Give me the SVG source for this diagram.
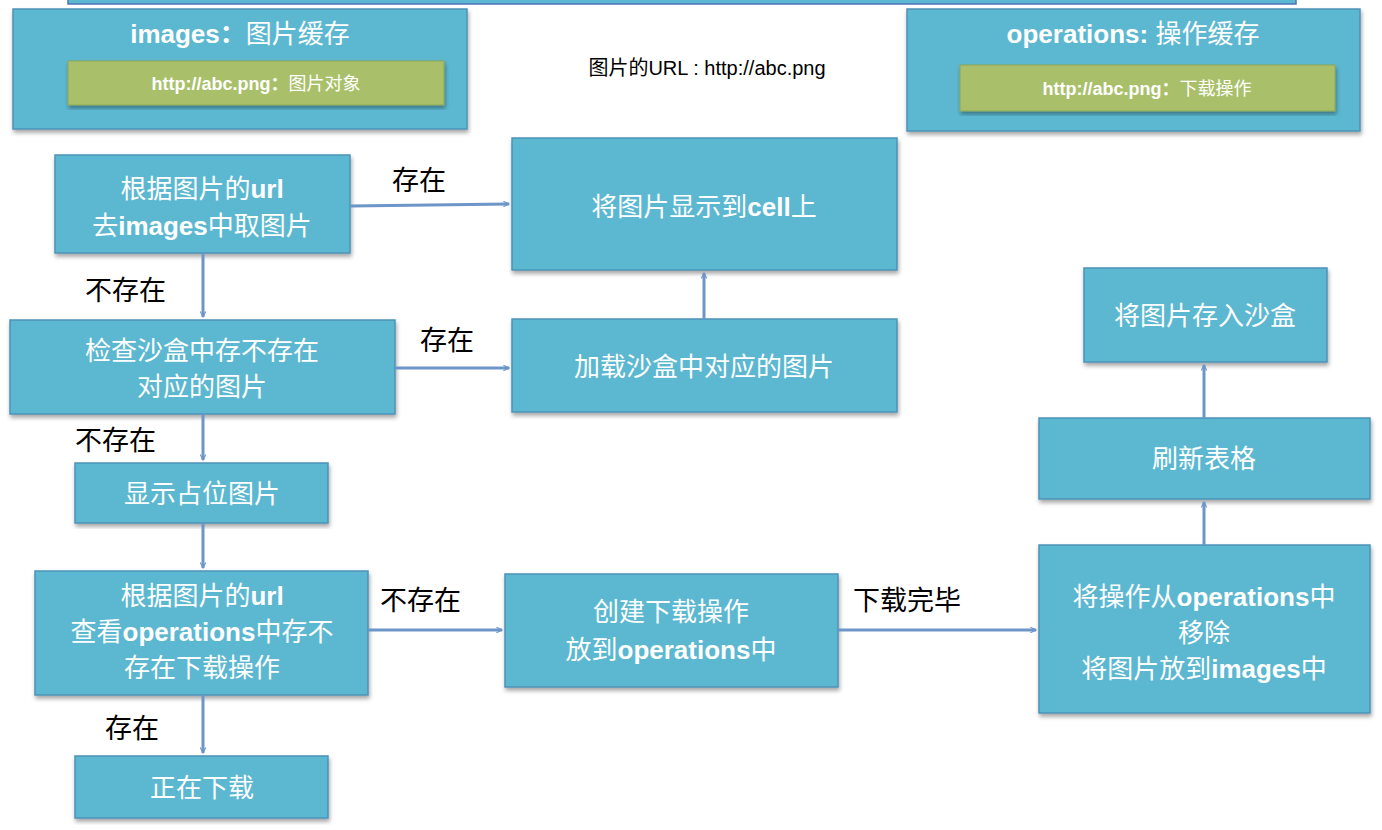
<svg xmlns="http://www.w3.org/2000/svg" width="1382" height="830" viewBox="0 0 1382 830">
<defs>
<marker id="ah" viewBox="0 0 10 10" refX="9" refY="5" markerWidth="7" markerHeight="7" orient="auto" markerUnits="userSpaceOnUse">
<path d="M1,1 L9,5 L1,9" fill="none" stroke="#6d95c8" stroke-width="1.6"/>
</marker>
<filter id="sh" x="-5%" y="-5%" width="110%" height="115%"><feDropShadow dx="1" dy="3" stdDeviation="2" flood-opacity="0.35"/></filter>
</defs>
<style>
.box{fill:#5bb8d0;stroke:#4d93b8;stroke-width:1.5;filter:url(#sh)}
.grn{fill:#a9bf6a;stroke:#8fa655;stroke-width:1;filter:url(#sh)}
.t{fill:#fff;font-family:"Liberation Sans","Noto Sans CJK SC",sans-serif;font-size:26px;text-anchor:middle}
.b{font-weight:bold}
.s{font-size:18px}
.l{fill:#000;font-family:"Liberation Sans","Noto Sans CJK SC",sans-serif;font-size:27px}
.c{fill:none;stroke:#6d95c8;stroke-width:3;marker-end:url(#ah)}
</style>
<rect x="68" y="-4" width="1228" height="8" fill="#5bb8d0" stroke="#4d73b8" stroke-width="1.5"/>
<g id="images">
<rect class="box" x="13" y="9" width="454" height="120"/>
<text class="t" x="240" y="43" font-size="30"><tspan class="b">images：</tspan>图片缓存</text>
<rect class="grn" x="68" y="61" width="376" height="44"/>
<text class="t s" x="256" y="90"><tspan class="b">http://abc.png：</tspan>图片对象</text>
</g>
<g id="operations">
<rect class="box" x="907" y="9" width="453" height="122"/>
<text class="t" x="1133" y="43" font-size="30"><tspan class="b">operations: </tspan>操作缓存</text>
<rect class="grn" x="960" y="65" width="375" height="46"/>
<text class="t s" x="1147" y="95"><tspan class="b">http://abc.png：</tspan>下载操作</text>
</g>
<text x="707" y="75" font-family="Liberation Sans,'Noto Sans CJK SC',sans-serif" font-size="20" text-anchor="middle">图片的URL : http://abc.png</text>
<g id="A"><rect class="box" x="55" y="155" width="295" height="98"/>
<text class="t" x="202" y="198">根据图片的<tspan class="b">url</tspan></text><text class="t" x="202" y="235">去<tspan class="b">images</tspan>中取图片</text></g>
<g id="B"><rect class="box" x="512" y="138" width="385" height="132"/>
<text class="t" x="704" y="216">将图片显示到<tspan class="b">cell</tspan>上</text></g>
<g id="C"><rect class="box" x="10" y="320" width="385" height="94"/>
<text class="t" x="202" y="360">检查沙盒中存不存在</text><text class="t" x="202" y="396">对应的图片</text></g>
<g id="D"><rect class="box" x="512" y="319" width="385" height="93"/>
<text class="t" x="704" y="376">加载沙盒中对应的图片</text></g>
<g id="E"><rect class="box" x="75" y="463" width="253" height="60"/>
<text class="t" x="202" y="503">显示占位图片</text></g>
<g id="F"><rect class="box" x="35" y="571" width="333" height="124"/>
<text class="t" x="202" y="605">根据图片的<tspan class="b">url</tspan></text><text class="t" x="202" y="641">查看<tspan class="b">operations</tspan>中存不</text><text class="t" x="202" y="677">存在下载操作</text></g>
<g id="G"><rect class="box" x="75" y="756" width="253" height="62"/>
<text class="t" x="202" y="797">正在下载</text></g>
<g id="H"><rect class="box" x="505" y="574" width="333" height="113"/>
<text class="t" x="671" y="621">创建下载操作</text><text class="t" x="671" y="659">放到<tspan class="b">operations</tspan>中</text></g>
<g id="I"><rect class="box" x="1039" y="545" width="331" height="168"/>
<text class="t" x="1204" y="606">将操作从<tspan class="b">operations</tspan>中</text><text class="t" x="1204" y="642">移除</text><text class="t" x="1204" y="678">将图片放到<tspan class="b">images</tspan>中</text></g>
<g id="J"><rect class="box" x="1039" y="418" width="331" height="81"/>
<text class="t" x="1204" y="468">刷新表格</text></g>
<g id="K"><rect class="box" x="1084" y="268" width="243" height="94"/>
<text class="t" x="1205" y="325">将图片存入沙盒</text></g>
<g id="connectors">
<path class="c" d="M350,206 L509,204"/>
<path class="c" d="M203,253 L203,317"/>
<path class="c" d="M395,368 L509,368"/>
<path class="c" d="M704,319 L704,273"/>
<path class="c" d="M203,414 L203,460"/>
<path class="c" d="M203,523 L203,568"/>
<path class="c" d="M368,630 L502,630"/>
<path class="c" d="M203,695 L203,753"/>
<path class="c" d="M838,630 L1036,630"/>
<path class="c" d="M1204,545 L1204,502"/>
<path class="c" d="M1204,418 L1204,365"/>
<text class="l" x="392" y="190">存在</text>
<text class="l" x="85" y="300">不存在</text>
<text class="l" x="420" y="350">存在</text>
<text class="l" x="75" y="450">不存在</text>
<text class="l" x="380" y="610">不存在</text>
<text class="l" x="105" y="738">存在</text>
<text class="l" x="853" y="610">下载完毕</text>
</g>
</svg>
